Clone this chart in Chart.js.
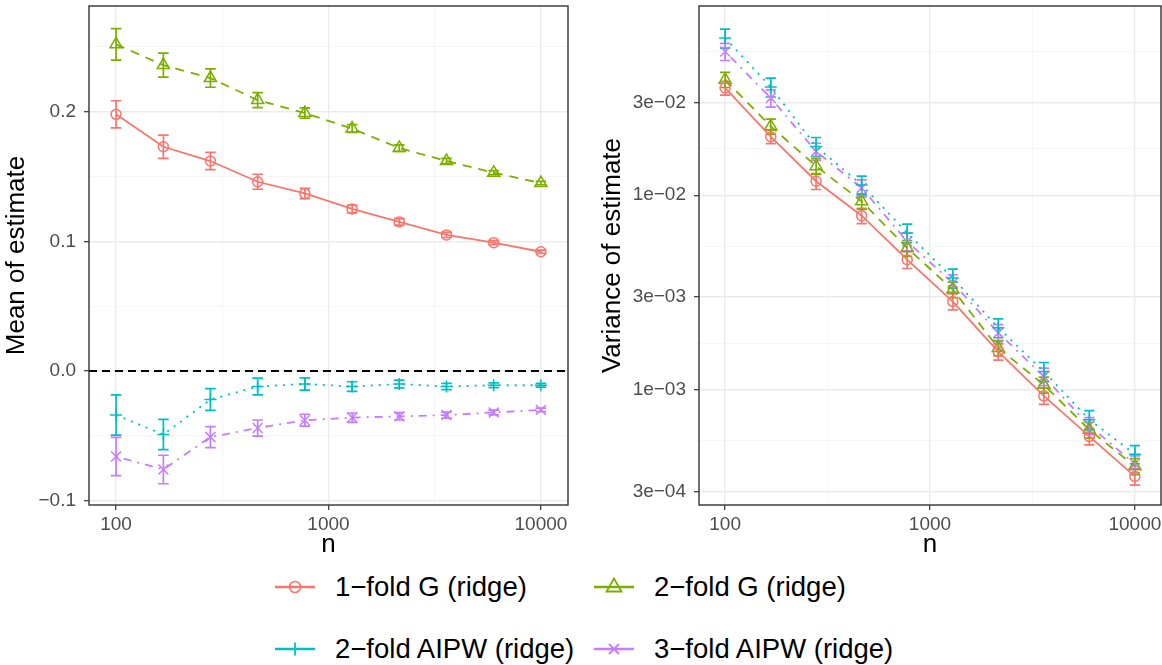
<!DOCTYPE html>
<html>
<head>
<meta charset="utf-8">
<script src="https://cdn.jsdelivr.net/npm/chart.js@4.4.1/dist/chart.umd.min.js"></script>
<style>
  body { margin: 0; background: #fff; width: 1162px; height: 665px; position: relative; overflow: hidden;
         font-family: 'Liberation Sans', Arial, sans-serif; }
  canvas { position: absolute; top: 0; }
  #meanChart { left: 0; }
  #varChart { left: 590px; }
  .item { position: absolute; height: 32px; display: flex; align-items: center; font-size: 27.5px; color: #000; white-space: nowrap; }
  .item svg { flex: none; }
  .item span { margin-left: 20px; }
</style>
</head>
<body>
<canvas id="meanChart" width="576" height="560"></canvas>
<canvas id="varChart" width="572" height="560"></canvas>
<div id="legend"></div>
<script>
// data
const nValues = [100, 167, 278, 464, 774, 1292, 2154, 3594, 5995, 10000];
const seriesNames = ['1−fold G (ridge)', '2−fold G (ridge)', '2−fold AIPW (ridge)', '3−fold AIPW (ridge)'];
const seriesColors = ['#F8766D', '#7CAE00', '#00BFC4', '#C77CFF'];

const meanG1 = [0.198, 0.173, 0.162, 0.146, 0.137, 0.125, 0.115, 0.105, 0.099, 0.092];
const meanG1Err = [0.0105, 0.009, 0.0067, 0.0058, 0.004, 0.003, 0.0025, 0.002, 0.0015, 0.0013];
const meanG2 = [0.252, 0.236, 0.226, 0.209, 0.199, 0.187, 0.172, 0.162, 0.153, 0.145];
const meanG2Err = [0.0122, 0.0093, 0.0071, 0.0058, 0.004, 0.003, 0.0025, 0.002, 0.0016, 0.0013];
const meanA2 = [-0.034, -0.049, -0.022, -0.012, -0.010, -0.012, -0.010, -0.012, -0.011, -0.011];
const meanA2Err = [0.0155, 0.0116, 0.0084, 0.0065, 0.0047, 0.0037, 0.003, 0.0024, 0.0019, 0.0015];
const meanA3 = [-0.066, -0.076, -0.051, -0.044, -0.038, -0.036, -0.035, -0.034, -0.032, -0.030];
const meanA3Err = [0.0148, 0.011, 0.0081, 0.0062, 0.0046, 0.0036, 0.0028, 0.0023, 0.0018, 0.0014];

const varG1 = [0.0356, 0.0200, 0.0118, 0.00785, 0.00466, 0.00284, 0.00157, 0.00093, 0.000575, 0.000358];
const varG1Err = [0.0029, 0.0016, 0.0011, 0.0007, 0.00046, 0.00027, 0.00015, 0.00009, 0.000055, 0.000035];
const varG2 = [0.0393, 0.0226, 0.0141, 0.0093, 0.00535, 0.00327, 0.00164, 0.00106, 0.000622, 0.000404];
const varG2Err = [0.0035, 0.002, 0.0013, 0.00085, 0.0005, 0.0003, 0.00015, 0.0001, 0.000058, 0.000038];
const varA2 = [0.0643, 0.0360, 0.0178, 0.0113, 0.0064, 0.00375, 0.00208, 0.00124, 0.000701, 0.000466];
const varA2Err = [0.0072, 0.004, 0.002, 0.00125, 0.0007, 0.00042, 0.00023, 0.00014, 0.00008, 0.00005];
const varA3 = [0.0548, 0.0316, 0.0168, 0.0109, 0.00578, 0.00354, 0.00196, 0.00117, 0.000653, 0.000415];
const varA3Err = [0.0055, 0.0032, 0.0017, 0.0011, 0.0006, 0.00036, 0.0002, 0.00012, 0.000066, 0.000042];

const xTicks = [100, 1000, 10000];
const meanTicks = [-0.1, 0, 0.1, 0.2];
const meanTickLabels = ['−0.1', '0.0', '0.1', '0.2'];
const varTicks = [3e-4, 1e-3, 3e-3, 1e-2, 3e-2];
const varTickLabels = ['3e−04', '1e−03', '3e−03', '1e−02', '3e−02'];

// styling
const pointStyles = ['circle', 'triangle', 'cross', 'crossRot'];
const pointRadii = [5, 7, 6, 7];
const dashes = [[], [9, 7], [2, 6], [2, 6, 8, 6]];
const capFactor = Math.pow(10, 0.025);

Chart.defaults.font.family = "'Liberation Sans', Arial, sans-serif";

// grid positions: minor lines sit halfway between majors on the log/linear scale
const xGrid = [100, Math.sqrt(100 * 1000), 1000, Math.sqrt(1000 * 10000), 10000];
const meanGrid = [-0.1, -0.05, 0, 0.05, 0.1, 0.15, 0.2, 0.25];
const varGrid = [];
varTicks.forEach((v, i) => {
  varGrid.push(v);
  const next = i < varTicks.length - 1 ? varTicks[i + 1] : 0.1;
  varGrid.push(Math.sqrt(v * next));
});

function isIn(list, v) {
  return list.some(m => Math.abs(m - v) <= Math.abs(m) * 1e-6 + 1e-12);
}

function gridStyle(majors) {
  return {
    color: c => isIn(majors, c.tick.value) ? '#EBEBEB' : '#F4F4F4',
    lineWidth: c => isIn(majors, c.tick.value) ? 1.4 : 0.8,
    tickColor: c => isIn(majors, c.tick.value) ? '#333333' : 'rgba(0,0,0,0)',
    tickWidth: 1.2,
    tickLength: 5
  };
}

function makeDatasets(vals, errs) {
  return vals.map((arr, k) => ({
    label: seriesNames[k],
    data: nValues.map((n, i) => ({ x: n, y: arr[i] })),
    err: errs[k],
    borderColor: seriesColors[k],
    borderWidth: 1.8,
    borderDash: dashes[k],
    pointStyle: pointStyles[k],
    pointRadius: pointRadii[k],
    pointBorderWidth: 1.5,
    pointBackgroundColor: 'rgba(0,0,0,0)',
    pointBorderColor: seriesColors[k],
    tension: 0,
    fill: false
  }));
}

const errorBars = {
  id: 'errorBars',
  beforeDatasetsDraw(chart) {
    const ctx = chart.ctx, xs = chart.scales.x, ys = chart.scales.y;
    chart.data.datasets.forEach(ds => {
      ctx.save();
      ctx.strokeStyle = ds.borderColor;
      ctx.lineWidth = 1.7;
      ctx.setLineDash([]);
      ds.data.forEach((p, i) => {
        const e = ds.err[i];
        const px = xs.getPixelForValue(p.x);
        const l = xs.getPixelForValue(p.x / capFactor), r = xs.getPixelForValue(p.x * capFactor);
        const t = ys.getPixelForValue(p.y + e), b = ys.getPixelForValue(p.y - e);
        ctx.beginPath();
        ctx.moveTo(px, t); ctx.lineTo(px, b);
        ctx.moveTo(l, t); ctx.lineTo(r, t);
        ctx.moveTo(l, b); ctx.lineTo(r, b);
        ctx.stroke();
      });
      ctx.restore();
    });
  }
};

const panelBox = {
  id: 'panelBox',
  afterDraw(chart) {
    const a = chart.chartArea, ctx = chart.ctx;
    ctx.save();
    ctx.strokeStyle = '#333333';
    ctx.lineWidth = 1.4;
    ctx.strokeRect(a.left, a.top, a.right - a.left, a.bottom - a.top);
    ctx.restore();
  }
};

const zeroLine = {
  id: 'zeroLine',
  beforeDatasetsDraw(chart) {
    const a = chart.chartArea, ctx = chart.ctx;
    const y = chart.scales.y.getPixelForValue(0);
    ctx.save();
    ctx.strokeStyle = '#000';
    ctx.lineWidth = 1.8;
    ctx.setLineDash([8, 5]);
    ctx.beginPath();
    ctx.moveTo(a.left, y); ctx.lineTo(a.right, y);
    ctx.stroke();
    ctx.restore();
  }
};

function xScale() {
  return {
    type: 'logarithmic',
    min: Math.pow(10, 1.8725),
    max: Math.pow(10, 4.1275),
    afterBuildTicks: s => { s.ticks = xGrid.map(v => ({ value: v })); },
    afterFit: s => { s.height = 55; s.paddingLeft = 0; s.paddingRight = 0; },
    ticks: {
      autoSkip: false, maxRotation: 0, padding: 3, color: '#4D4D4D', font: { size: 19 },
      callback: v => isIn(xTicks, v) ? String(Math.round(v)) : ''
    },
    grid: gridStyle(xTicks),
    border: { display: false },
    title: { display: true, text: 'n', color: '#000', font: { size: 26 }, padding: { top: 0, bottom: 0 } }
  };
}

new Chart('meanChart', {
  type: 'line',
  data: { datasets: makeDatasets([meanG1, meanG2, meanA2, meanA3], [meanG1Err, meanG2Err, meanA2Err, meanA3Err]) },
  options: {
    responsive: false, animation: false,
    layout: { autoPadding: false, padding: { top: 6, right: 8, left: 0, bottom: 0 } },
    plugins: { legend: { display: false }, tooltip: { enabled: false } },
    scales: {
      x: xScale(),
      y: {
        type: 'linear', min: -0.1034, max: 0.2816,
        afterBuildTicks: s => { s.ticks = meanGrid.map(v => ({ value: v })); },
        afterFit: s => { s.width = 89; s.paddingTop = 0; s.paddingBottom = 0; },
        ticks: {
          autoSkip: false, padding: 8, color: '#4D4D4D', font: { size: 19 },
          callback: v => {
            const i = meanTicks.findIndex(m => Math.abs(m - v) < 1e-9);
            return i >= 0 ? meanTickLabels[i] : '';
          }
        },
        grid: gridStyle(meanTicks),
        border: { display: false },
        title: { display: true, text: 'Mean of estimate', color: '#000', font: { size: 26 }, padding: { top: 1, bottom: 0 } }
      }
    }
  },
  plugins: [zeroLine, errorBars, panelBox]
});

new Chart('varChart', {
  type: 'line',
  data: { datasets: makeDatasets([varG1, varG2, varA2, varA3], [varG1Err, varG2Err, varA2Err, varA3Err]) },
  options: {
    responsive: false, animation: false,
    layout: { autoPadding: false, padding: { top: 6, right: 1, left: 0, bottom: 0 } },
    plugins: { legend: { display: false }, tooltip: { enabled: false } },
    scales: {
      x: xScale(),
      y: {
        type: 'logarithmic', min: Math.pow(10, -3.593), max: Math.pow(10, -1.027),
        afterBuildTicks: s => { s.ticks = varGrid.map(v => ({ value: v })); },
        afterFit: s => { s.width = 109; s.paddingTop = 0; s.paddingBottom = 0; },
        ticks: {
          autoSkip: false, padding: 8, color: '#4D4D4D', font: { size: 19 },
          callback: v => {
            const i = varTicks.findIndex(m => Math.abs(m - v) <= m * 1e-6);
            return i >= 0 ? varTickLabels[i] : '';
          }
        },
        grid: gridStyle(varTicks),
        border: { display: false },
        title: { display: true, text: 'Variance of estimate', color: '#000', font: { size: 26 }, padding: { top: 7, bottom: 0 } }
      }
    }
  },
  plugins: [errorBars, panelBox]
});

// legend built as html with small svg keys
const legendPos = [[275, 587], [594, 587], [275, 649], [594, 649]];
const keyMarks = [
  c => `<circle cx="20" cy="16" r="5.5" fill="none" stroke="${c}" stroke-width="1.6"/>`,
  c => `<polygon points="20,7.5 27.5,20.5 12.5,20.5" fill="none" stroke="${c}" stroke-width="1.8"/>`,
  c => `<path d="M20 9.5 V22.5 M13.5 16 H26.5" stroke="${c}" stroke-width="1.8"/>`,
  c => `<path d="M15 11 L25 21 M25 11 L15 21" stroke="${c}" stroke-width="1.8"/>`
];
const legend = document.getElementById('legend');
seriesNames.forEach((name, k) => {
  const c = seriesColors[k];
  const div = document.createElement('div');
  div.className = 'item';
  div.style.left = legendPos[k][0] + 'px';
  div.style.top = (legendPos[k][1] - 16) + 'px';
  div.innerHTML = `<svg width="40" height="32"><line x1="0" y1="16" x2="40" y2="16" stroke="${c}" stroke-width="2.6"/>${keyMarks[k](c)}</svg><span>${name}</span>`;
  legend.appendChild(div);
});
</script>
</body>
</html>
